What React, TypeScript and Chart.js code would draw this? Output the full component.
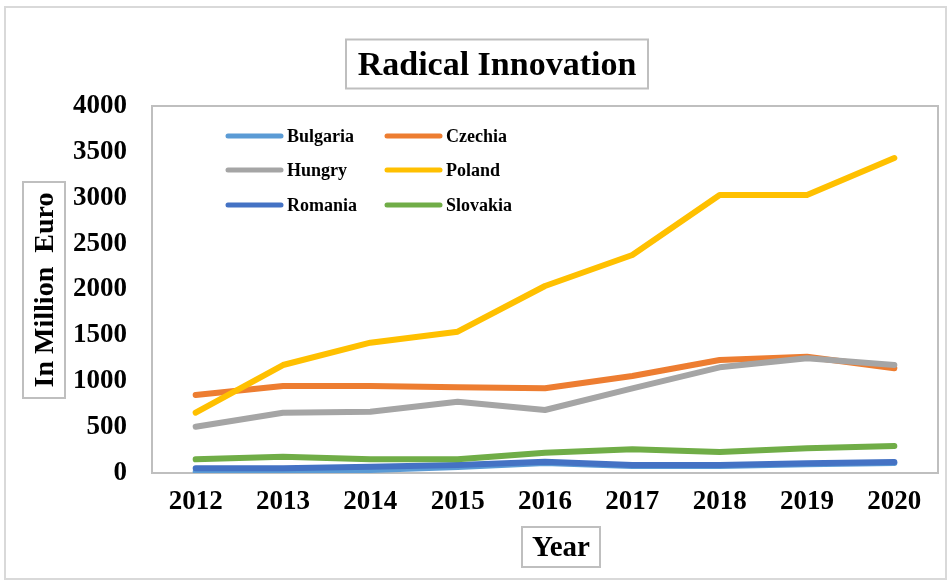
import React, { useEffect, useRef } from "react";
import { Chart, registerables } from "chart.js";

Chart.register(...registerables);

const years = ["2012", "2013", "2014", "2015", "2016", "2017", "2018", "2019", "2020"];
const bulgaria = [14, 10, 33, 65, 109, 76, 76, 95, 110];
const czechia = [850, 948, 948, 934, 923, 1057, 1232, 1268, 1141];
const hungry = [505, 657, 668, 777, 687, 923, 1152, 1250, 1177];
const poland = [657, 1177, 1420, 1540, 2038, 2376, 3030, 3030, 3433];
const romania = [51, 51, 69, 87, 123, 87, 87, 105, 120];
const slovakia = [149, 178, 149, 149, 221, 258, 229, 269, 294];

const seriesNames = ["Bulgaria", "Czechia", "Hungry", "Poland", "Romania", "Slovakia"];
const seriesValues = [bulgaria, czechia, hungry, poland, romania, slovakia];
const seriesColors = ["#5B9BD5", "#ED7D31", "#A5A5A5", "#FFC000", "#4472C4", "#70AD47"];

const yMin = 0;
const yMax = 4000;
const yStep = 500;

const chartTitle = "Radical Innovation";
const yTitle = "In Million  Euro";
const xTitle = "Year";

const FONT = "'Liberation Serif', 'Times New Roman', serif";

function boxedText(
  ctx: CanvasRenderingContext2D,
  text: string,
  cx: number,
  cy: number,
  font: string,
  w: number,
  h: number,
  rotate: number
) {
  ctx.save();
  ctx.translate(cx, cy);
  if (rotate) ctx.rotate(rotate);
  ctx.fillStyle = "#ffffff";
  ctx.fillRect(-w / 2, -h / 2, w, h);
  ctx.strokeStyle = "#BFBFBF";
  ctx.lineWidth = 2;
  ctx.strokeRect(-w / 2, -h / 2, w, h);
  ctx.font = font;
  ctx.fillStyle = "#000000";
  ctx.textAlign = "center";
  ctx.textBaseline = "middle";
  ctx.fillText(text, 0, 2);
  ctx.restore();
}

const decorPlugin = {
  id: "decor",
  beforeDraw(chart: any) {
    const ctx = chart.ctx as CanvasRenderingContext2D;
    ctx.save();
    ctx.fillStyle = "#ffffff";
    ctx.fillRect(0, 0, chart.width, chart.height);
    ctx.strokeStyle = "#D9D9D9";
    ctx.lineWidth = 2;
    ctx.strokeRect(5, 7, 941, 572);
    ctx.restore();
  },
  beforeDatasetsDraw(chart: any) {
    const ctx = chart.ctx as CanvasRenderingContext2D;
    const a = chart.chartArea;
    ctx.save();
    ctx.strokeStyle = "#BFBFBF";
    ctx.lineWidth = 2;
    ctx.strokeRect(a.left, a.top, a.right - a.left, a.bottom - a.top);
    ctx.restore();
  },
  afterDraw(chart: any) {
    const ctx = chart.ctx as CanvasRenderingContext2D;
    boxedText(ctx, chartTitle, 497, 64, `bold 34px ${FONT}`, 302, 49, 0);
    boxedText(ctx, yTitle, 44, 290, `bold 28px ${FONT}`, 216, 42, -Math.PI / 2);
    boxedText(ctx, xTitle, 561, 547, `bold 29px ${FONT}`, 78, 40, 0);

    // legend
    const rows = [136, 170, 205];
    const cols = [228, 387];
    ctx.save();
    ctx.font = `bold 18px ${FONT}`;
    ctx.textAlign = "left";
    ctx.textBaseline = "middle";
    chart.data.datasets.forEach((ds: any, i: number) => {
      const x = cols[i % 2];
      const y = rows[Math.floor(i / 2)];
      ctx.strokeStyle = ds.borderColor;
      ctx.lineWidth = 5;
      ctx.lineCap = "round";
      ctx.beginPath();
      ctx.moveTo(x, y);
      ctx.lineTo(x + 53, y);
      ctx.stroke();
      ctx.fillStyle = "#000000";
      ctx.fillText(ds.label, x + 59, y + 1);
    });
    ctx.restore();
  },
};

export default function App() {
  const ref = useRef<HTMLCanvasElement | null>(null);

  useEffect(() => {
    document.body.style.margin = "0";
    if (!ref.current) return;
    const chart = new Chart(ref.current, {
      type: "line",
      data: {
        labels: years,
        datasets: seriesNames.map((name, i) => ({
          label: name,
          data: seriesValues[i],
          borderColor: seriesColors[i],
          backgroundColor: seriesColors[i],
          borderWidth: 6,
          pointRadius: 0,
          pointHoverRadius: 0,
          tension: 0,
          borderCapStyle: "round",
          borderJoinStyle: "round",
          fill: false,
          order: seriesNames.length - i,
        })),
      },
      options: {
        animation: false,
        responsive: false,
        maintainAspectRatio: false,
        layout: { padding: { top: 106, right: 14, left: 0, bottom: 47 } },
        plugins: {
          legend: { display: false },
          title: { display: false },
          tooltip: { enabled: false },
        },
        scales: {
          x: {
            offset: true,
            grid: { display: false, drawTicks: false },
            border: { display: false },
            ticks: {
              color: "#000000",
              padding: 13,
              maxRotation: 0,
              autoSkip: false,
              font: { family: FONT, size: 27, weight: "bold" },
            },
            afterFit: (scale: any) => {
              scale.height = 60;
            },
          },
          y: {
            min: yMin,
            max: yMax,
            grid: { display: false, drawTicks: false },
            border: { display: false },
            ticks: {
              stepSize: yStep,
              color: "#000000",
              padding: 25,
              font: { family: FONT, size: 27, weight: "bold" },
              callback: (v: any) => String(v),
            },
            afterFit: (scale: any) => {
              scale.width = 152;
            },
          },
        },
      },
      plugins: [decorPlugin],
    });
    return () => chart.destroy();
  }, []);

  return (
    <div style={{ width: 952, height: 580 }}>
      <canvas ref={ref} width={952} height={580} style={{ display: "block" }} />
    </div>
  );
}
